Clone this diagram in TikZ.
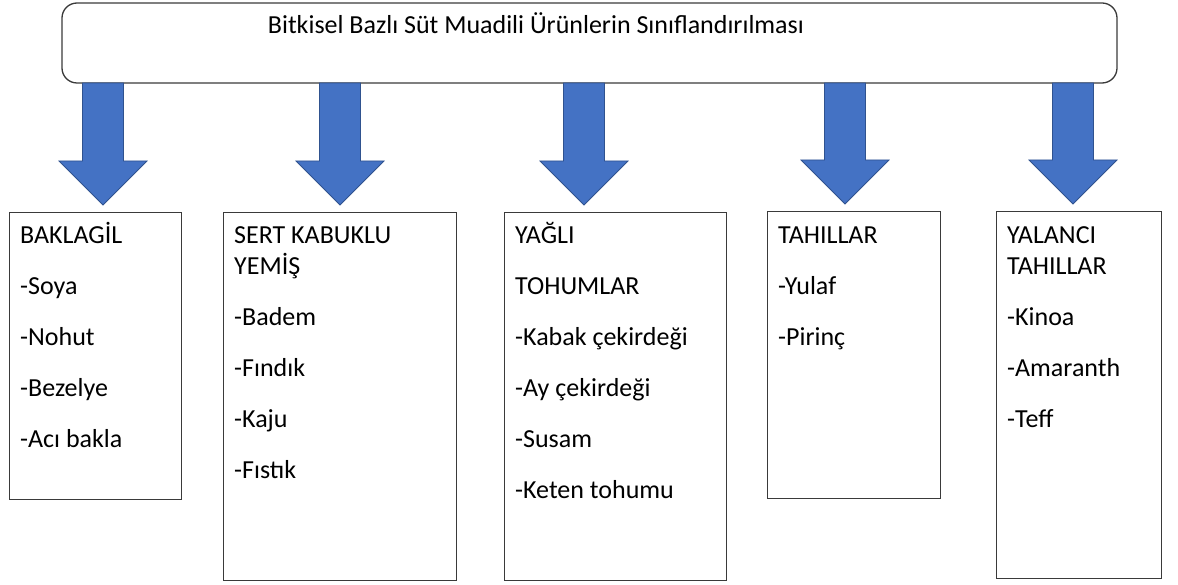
\documentclass[tikz,border=0pt]{standalone}
\usepackage{fontspec}
\setmainfont{Carlito}
\usetikzlibrary{calc}
\definecolor{arrowfill}{HTML}{4472C4}
\definecolor{arrowline}{HTML}{2F528F}
\definecolor{boxline}{HTML}{3A3A3A}

\begin{document}
\begin{tikzpicture}[x=1pt,y=-1pt,
    catbox/.style={draw=boxline,line width=1.3pt,inner sep=0pt},
    cattext/.style={anchor=north west,inner sep=0pt,align=left,
        font=\fontsize{26}{31}\selectfont},
    blockarrow/.style={fill=arrowfill,draw=arrowline,line width=0.8pt,line join=miter}]
    \useasboundingbox (0,0) rectangle (1178,585);
    % title
    \draw[catbox,rounded corners=15pt] (62,3) rectangle (1117,83);
    \coordinate (title) at (589.5,83);
    \node[anchor=base,inner sep=0pt,font=\fontsize{26}{31}\selectfont] (titletxt) at (536,34)
        {Bitkisel Bazlı Süt Muadili Ürünlerin Sınıflandırılması};
    % boxes
    \node[catbox,anchor=north west,minimum width=172pt,minimum height=287pt] (bak) at (9,212) {};
    \node[catbox,anchor=north west,minimum width=233pt,minimum height=368pt] (sert) at (223,212) {};
    \node[catbox,anchor=north west,minimum width=222pt,minimum height=368pt] (yag) at (504,212) {};
    \node[catbox,anchor=north west,minimum width=173pt,minimum height=287pt] (tah) at (767,211) {};
    \node[catbox,anchor=north west,minimum width=165pt,minimum height=367pt] (yal) at (996,211) {};
    % texts
    \node[cattext] (baktxt) at ($(bak.north west)+(11,9)$)
        {\rule{0pt}{22pt}BAKLAGİL\\[20pt]-Soya\\[20pt]-Nohut\\[20pt]-Bezelye\\[20pt]-Acı bakla};
    \node[cattext] (serttxt) at ($(sert.north west)+(11,9)$)
        {\rule{0pt}{22pt}SERT KABUKLU\\YEMİŞ\\[20.5pt]-Badem\\[20pt]-Fındık\\[20pt]-Kaju\\[20pt]-Fıstık};
    \node[cattext] (yagtxt) at ($(yag.north west)+(11,9)$)
        {\rule{0pt}{22pt}YAĞLI\\[20pt]TOHUMLAR\\[20pt]-Kabak çekirdeği\\[20pt]-Ay çekirdeği\\[20pt]-Susam\\[20pt]-Keten tohumu};
    \node[cattext] (tahtxt) at ($(tah.north west)+(11,10)$)
        {\rule{0pt}{22pt}TAHILLAR\\[20pt]-Yulaf\\[20pt]-Pirinç};
    \node[cattext] (yaltxt) at ($(yal.north west)+(11,10)$)
        {\rule{0pt}{22pt}YALANCI\\TAHILLAR\\[20.5pt]-Kinoa\\[20pt]-Amaranth\\[20pt]-Teff};
    % arrows
    \foreach \x/\b in {103/bak,340/sert,584/yag,845/tah,1073/yal}{
        \coordinate (top\b) at (title -| \x,0);
        \coordinate (tip\b) at ([yshift=7pt]\b.north -| \x,0);
        \draw[blockarrow] ($(top\b)+(-20.5,0)$) -- ($(tip\b)+(-20.5,-44)$) -- ($(tip\b)+(-44,-44)$)
            -- (tip\b) -- ($(tip\b)+(44,-44)$) -- ($(tip\b)+(20.5,-44)$) -- ($(top\b)+(20.5,0)$) -- cycle;
    }
\end{tikzpicture}
\end{document}
